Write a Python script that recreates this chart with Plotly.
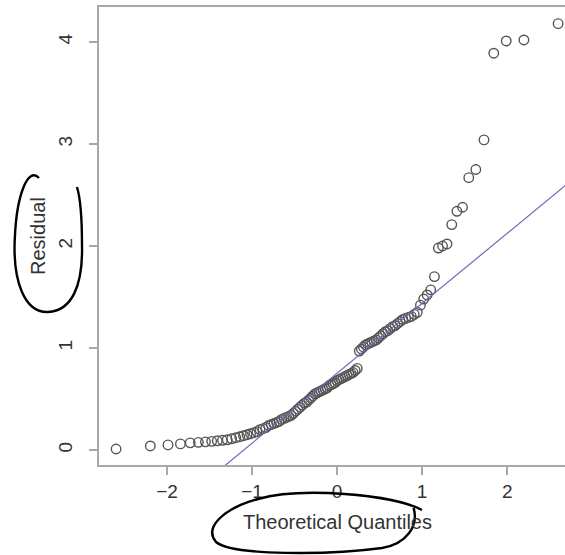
from statistics import NormalDist
import numpy as np
import plotly.graph_objects as go

# sorted residuals
residuals = [
    0.01, 0.04, 0.05, 0.06, 0.07, 0.075, 0.08, 0.085, 0.09, 0.095,
    0.10, 0.11, 0.12, 0.13, 0.14, 0.15, 0.16, 0.17, 0.18, 0.20,
    0.21, 0.22, 0.24, 0.25, 0.26, 0.27, 0.28, 0.30, 0.31, 0.32,
    0.33, 0.34, 0.36, 0.38, 0.40, 0.42, 0.44, 0.46, 0.47, 0.49,
    0.51, 0.53, 0.55, 0.56, 0.57, 0.58, 0.59, 0.60, 0.61, 0.63,
    0.64, 0.65, 0.66, 0.68, 0.69, 0.70, 0.71, 0.72, 0.73, 0.74,
    0.75, 0.76, 0.78, 0.80, 0.97, 0.99, 1.01, 1.03, 1.04, 1.05,
    1.06, 1.07, 1.08, 1.10, 1.12, 1.14, 1.16, 1.17, 1.19, 1.21,
    1.22, 1.24, 1.26, 1.28, 1.29, 1.30, 1.31, 1.33, 1.35, 1.42,
    1.48, 1.52, 1.57, 1.70, 1.98, 2.00, 2.02, 2.21, 2.34, 2.38,
    2.67, 2.75, 3.04, 3.89, 4.01, 4.02, 4.18,
]
x_ticks = [-2, -1, 0, 1, 2]
x_labels = ["\u22122", "\u22121", "0", "1", "2"]
y_ticks = [0, 1, 2, 3, 4]

n = len(residuals)
nd = NormalDist()
# theoretical quantiles as in R's qqnorm (ppoints)
theo = [nd.inv_cdf((i - 0.5) / n) for i in range(1, n + 1)]

# qqline: through first and third quartiles
yq = np.quantile(residuals, [0.25, 0.75])
xq = [nd.inv_cdf(0.25), nd.inv_cdf(0.75)]
slope = (yq[1] - yq[0]) / (xq[1] - xq[0])
icept = yq[0] - slope * xq[0]

xr = [-2.8, 2.68]
yr = [-0.147, 4.343]

fig = go.Figure()
fig.add_trace(go.Scatter(
    x=theo, y=residuals, mode="markers",
    marker=dict(symbol="circle-open", size=9.5, color="#555555",
                line=dict(width=1.4, color="#555555")),
    showlegend=False, hoverinfo="skip"))
lx = [-3.5, 3.5]
fig.add_trace(go.Scatter(
    x=lx, y=[icept + slope * v for v in lx], mode="lines",
    line=dict(color="#6a6ab8", width=1.2), showlegend=False, hoverinfo="skip"))

W, H = 565, 555
L, R, T, B = 99, 0, 7, 90
pw, ph = W - L - R, H - T - B


def px(x, y):
    # pixel -> paper coords, for the hand-drawn marks
    return (x - L) / pw, (H - B - y) / ph


def path(pts):
    s = ""
    for cmd, coords in pts:
        s += cmd + " " + " ".join("%.4f,%.4f" % px(*c) for c in coords) + " "
    return s.strip()


residual_ring = [
    ("M", [(39, 178)]),
    ("C", [(28, 166), (17, 195), (15, 235)]),
    ("C", [(12, 282), (25, 313), (48, 312)]),
    ("C", [(72, 311), (83, 285), (82, 245)]),
    ("C", [(82, 215), (80, 197), (77, 187)]),
]
quant_ring = [
    ("M", [(422, 510)]),
    ("C", [(392, 494), (300, 487), (258, 499)]),
    ("C", [(222, 509), (204, 528), (216, 542)]),
    ("C", [(232, 556), (330, 555), (382, 548)]),
    ("C", [(406, 544), (420, 526), (413, 506)]),
]

shapes = [
    dict(type="path", xref="paper", yref="paper", path=path(residual_ring),
         line=dict(color="black", width=2.4)),
    dict(type="path", xref="paper", yref="paper", path=path(quant_ring),
         line=dict(color="black", width=2.4)),
]

axis_col = "#a8a8a8"
tick_font = dict(family="Liberation Sans, Arial, sans-serif", size=19, color="#333333")
title_font = dict(family="Liberation Sans, Arial, sans-serif", size=20, color="#333333")

fig.update_layout(
    width=W, height=H,
    margin=dict(l=L, r=R, t=T, b=B),
    paper_bgcolor="white", plot_bgcolor="white",
    shapes=shapes,
    xaxis=dict(range=xr, tickvals=x_ticks, ticktext=x_labels,
               showgrid=False, zeroline=False, showline=True, mirror=True,
               linecolor=axis_col, linewidth=2, ticks="outside", ticklen=8,
               tickwidth=1.5, tickcolor=axis_col, tickfont=tick_font,
               ticklabelstandoff=0),
    yaxis=dict(range=yr, tickvals=y_ticks, showgrid=False, zeroline=False,
               showline=True, linecolor=axis_col, linewidth=2, ticks="outside",
               ticklen=8, tickwidth=1.5, tickcolor=axis_col, tickfont=tick_font,
               tickangle=-90, ticklabelstandoff=9),
    annotations=[
        dict(text="Theoretical Quantiles", xref="paper", yref="paper",
             x=px(337, 0)[0], y=px(0, 522)[1], showarrow=False,
             xanchor="center", yanchor="middle", font=title_font),
        dict(text="Residual", xref="paper", yref="paper",
             x=px(38, 0)[0], y=px(0, 236)[1], showarrow=False, textangle=-90,
             xanchor="center", yanchor="middle", font=title_font),
    ],
)

# drop the page's default 8px body margin so the figure sits at the window corner
fig.write_html("out.html",
               config={"displayModeBar": False},
               post_script="document.body.style.margin='0';"
                           "document.body.style.overflow='hidden';")
